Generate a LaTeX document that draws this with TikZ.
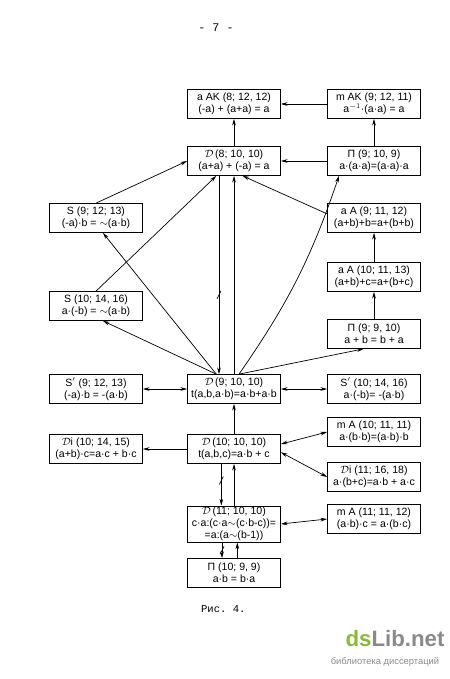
\documentclass[tikz,border=0pt]{standalone}
\usepackage{fontspec}
\setmainfont{Liberation Sans}
\setmonofont{Liberation Mono}
\usepackage{tikz}
\usetikzlibrary{arrows.meta,calc,decorations.markings}
\definecolor{dsgreen}{HTML}{8DB63C}
\definecolor{dsgray}{HTML}{8A8A8A}
\tikzset{
  block/.style   = {draw, line width=0.6pt, rectangle, minimum height=8.7mm,
                    minimum width=27.9mm, inner sep=1pt, align=center,
                    font=\fontsize{9}{10.3}\selectfont},
  sig/.style     = {-{Stealth[length=2mm,width=1.1mm]}, line width=0.6pt},
  sigboth/.style = {{Stealth[length=2mm,width=1.1mm]}-{Stealth[length=2mm,width=1.1mm]}, line width=0.6pt},
  negmark/.style = {postaction={decorate, decoration={markings,
                    mark=at position #1 with {\draw[-] (-3.4pt,1.7pt) -- (3.4pt,-1.7pt);}}}},
}
\newcommand{\sD}{$\mathcal{D}$}

\begin{document}
\begin{tikzpicture}[x=0.3mm, y=-0.3mm]
\useasboundingbox (0,0) rectangle (450,679);
% ---- page number ----
\node[font=\ttfamily\fontsize{10}{10}\selectfont] (pg) at (216,28) {- 7 -};
% ---- top rows ----
\node[block] (aak)  at (234,104) {a AK (8; 12, 12)\\(-a) + (a+a) = a};
\node[block] (mak)  at (374,104) {m AK (9; 12, 11)\\a$^{-1}$·(a·a) = a};
\node[block] (d8)   at (234,161) {\sD\,(8; 10, 10)\\(a+a) + (-a) = a};
\node[block] (p9)   at (374,161) {П (9; 10, 9)\\a·(a·a)=(a·a)·a};
\node[block] (s9)   at (96,218)  {S (9; 12; 13)\\(-a)·b = $\sim$(a·b)};
\node[block] (aa9)  at (374,218) {a A (9; 11, 12)\\(a+b)+b=a+(b+b)};
\node[block] (aa10) at (374,277) {a A (10; 11, 13)\\(a+b)+c=a+(b+c)};
\node[block] (s10)  at (96,306)  {S (10; 14, 16)\\a·(-b) = $\sim$(a·b)};
\node[block] (p99)  at (374,334) {П (9; 9, 10)\\a + b = b + a};
% ---- middle row ----
\node[block] (s9p)  at (96,389)  {S$'$ (9; 12, 13)\\(-a)·b = -(a·b)};
\node[block] (d9)   at (234,389) {\sD\,(9; 10, 10)\\t(a,b,a·b)=a·b+a·b};
\node[block] (s10p) at (374,389) {S$'$ (10; 14, 16)\\a·(-b)= -(a·b)};
% ---- lower rows ----
\node[block] (ma10) at (374,432) {m A (10; 11, 11)\\a·(b·b)=(a·b)·b};
\node[block] (di10) at (96,449)  {\sD i (10; 14, 15)\\(a+b)·c=a·c + b·c};
\node[block] (d10)  at (234,449) {\sD\,(10; 10, 10)\\t(a,b,c)=a·b + c};
\node[block] (di11) at (374,477) {\sD i (11; 16, 18)\\a·(b+c)=a·b + a·c};
\node[block] (ma11) at (374,519) {m A (11; 11, 12)\\(a·b)·c = a·(b·c)};
\node[block] (d11)  at (234,524) {\sD\,(11; 10, 10)\\c·a:(c·a$\sim$(c·b-c))=\\=a:(a$\sim$(b-1))};
\node[block] (p10)  at (234,573) {П (10; 9, 9)\\a·b = b·a};
\node[font=\ttfamily\fontsize{9}{9}\selectfont, anchor=west] (cap) at (197,609) {Рис. 4.};
% ---- upper connectors ----
\draw[sig] (d8) -- (aak);
\draw[sig] (mak) -- (aak);
\draw[sig] (p9) -- (mak);
\draw[sig] (p9) -- (d8);
\draw[sig] (s9.north) -- (d8.west);
\draw[sig] (s10.north) -- (d8.-140);
\draw[sig] (d9.140) -- (s9.-65);
\draw[sig] (d9.140) -- (s10.-65);
\draw[sig, negmark=0.6] ([xshift=-4.5mm]d8.south) -- ([xshift=-4.5mm]d9.north);
\draw[sig] (d9) -- (d8);
\draw[sig] ([xshift=1.5mm]d9.north) to[bend right=8] (p9.-157);
\draw[sig] (aa9.175) -- (d8.-60);
\draw[sig] (aa10) -- (aa9);
\draw[sig] (p99) -- (aa10);
\draw[sig] ([xshift=1.5mm]d9.north) -- (p99.-125);
% ---- side connectors ----
\draw[sigboth] (s9p) -- (d9);
\draw[sigboth] (d9) -- (s10p);
\draw[sig] (d10) -- (d9);
\draw[sig] (d10) -- (di10);
\draw[sigboth] (d10.6) -- (ma10.west);
\draw[sigboth] (d10.-4) -- (di11.west);
\draw[sigboth] (d11.east) -- (ma11.west);
% ---- lower column ----
\draw[sig, negmark=0.4] ([xshift=-3.8mm]d10.south) -- ([xshift=-3.8mm]d11.north);
\draw[sig] (d11) -- (d10);
\draw[sig, negmark=0.5] ([xshift=-3.6mm]d11.south) -- ([xshift=-3.6mm]p10.north);
\draw[sig] ([xshift=1mm]p10.north) -- ([xshift=1mm]d11.south);
% ---- watermark ----
\node[font=\bfseries\fontsize{19}{19}\selectfont] (wm) at (395,639)
  {\textcolor{dsgreen}{ds}\textcolor{dsgray}{Lib.net}};
\node[font=\fontsize{8}{8}\selectfont, text=dsgray] (wmsub) at (385,662) {библиотека диссертаций};
\end{tikzpicture}
\end{document}
